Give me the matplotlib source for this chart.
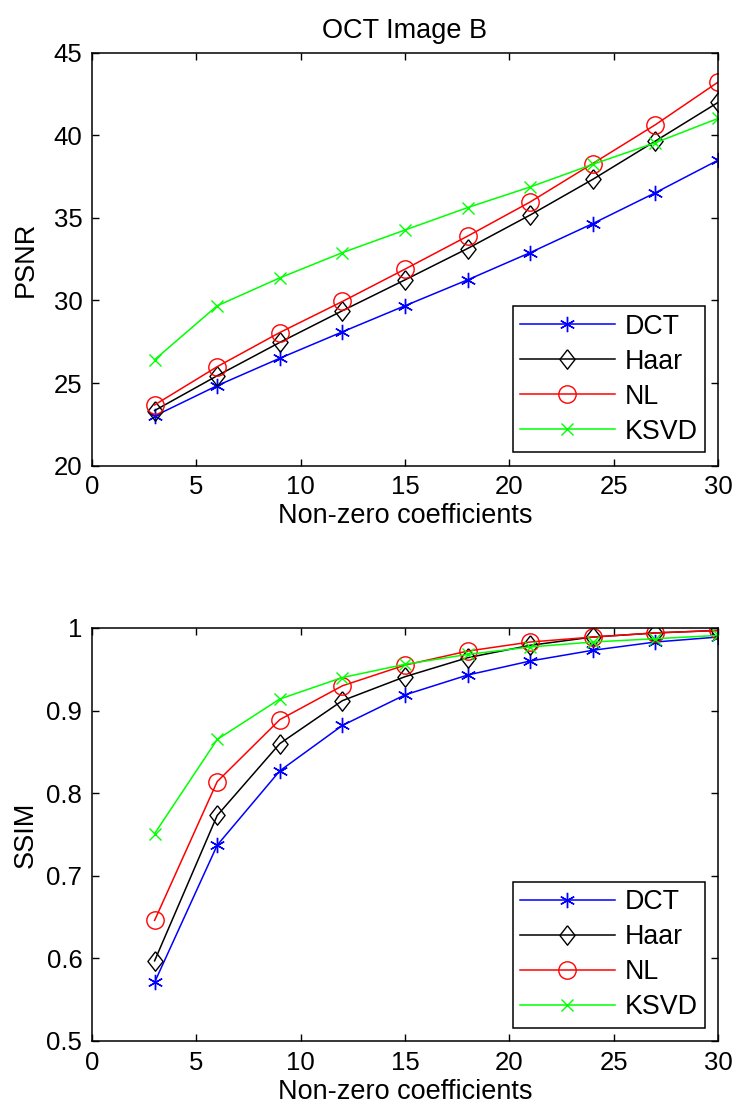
import numpy as np
import matplotlib
matplotlib.use('Agg')
import matplotlib.pyplot as plt

plt.rcParams['font.family'] = ['Liberation Sans', 'DejaVu Sans']

coeffs = [3, 6, 9, 12, 15, 18, 21, 24, 27, 30]

psnr_dct = [23.0, 24.84, 26.5, 28.1, 29.68, 31.25, 32.9, 34.66, 36.53, 38.5]
psnr_haar = [23.33, 25.44, 27.46, 29.38, 31.25, 33.15, 35.18, 37.34, 39.66, 42.0]
psnr_nl = [23.67, 25.99, 28.06, 29.94, 31.9, 33.9, 35.97, 38.3, 40.65, 43.23]
psnr_ksvd = [26.41, 29.68, 31.37, 32.9, 34.27, 35.63, 36.88, 38.25, 39.56, 41.03]

ssim_dct = [0.571, 0.737, 0.827, 0.882, 0.919, 0.943, 0.960, 0.973, 0.983, 0.989]
ssim_haar = [0.597, 0.773, 0.860, 0.912, 0.941, 0.964, 0.979, 0.989, 0.994, 0.997]
ssim_nl = [0.646, 0.814, 0.889, 0.930, 0.955, 0.972, 0.983, 0.989, 0.994, 0.997]
ssim_ksvd = [0.751, 0.865, 0.914, 0.940, 0.956, 0.968, 0.977, 0.983, 0.987, 0.991]

labels = ['DCT', 'Haar', 'NL', 'KSVD']
colors = ['#0000ff', '#000000', '#ff0000', '#00ff00']
# matlab style diamond, a bit wider than matplotlib's thin one
diamond = [(0, 1), (0.78, 0), (0, -1), (-0.78, 0), (0, 1)]
markers = [(6, 2, 0), diamond, 'o', 'x']
msizes = [11, 14, 12.5, 9]

fig = plt.figure(figsize=(7.36, 11.15), dpi=100)
ax1 = fig.add_axes([0.125, 0.5825, 0.8505, 0.370])
ax2 = fig.add_axes([0.125, 0.0664, 0.8505, 0.3704])


def draw(ax, series, ylim, yticks, yticklabels, ylabel):
    for s, lab, c, m, ms in zip(series, labels, colors, markers, msizes):
        ax.plot(coeffs, s, color=c, marker=m, markersize=ms, markerfacecolor='none',
                markeredgecolor=c, markeredgewidth=1.0, linewidth=1.1, label=lab)
    ax.set_xlim(0, 30)
    ax.set_ylim(*ylim)
    ax.set_xticks(range(0, 31, 5))
    ax.set_yticks(yticks)
    ax.set_yticklabels(yticklabels)
    ax.tick_params(direction='in', top=True, right=True, length=5, width=1,
                   labelsize=18.5, pad=7)
    for sp in ax.spines.values():
        sp.set_linewidth(1.1)
    ax.set_xlabel('Non-zero coefficients', fontsize=19.5, labelpad=3)
    ax.set_ylabel(ylabel, fontsize=19.5)
    ax.yaxis.set_label_coords(-0.0853, 0.5)
    leg = ax.legend(loc='lower right', fontsize=19.3, handlelength=3.55, borderpad=0.27,
                    labelspacing=0.34, handletextpad=0.35, borderaxespad=0.5,
                    fancybox=False, edgecolor='black', framealpha=1)
    leg.get_frame().set_linewidth(1.1)


draw(ax1, [psnr_dct, psnr_haar, psnr_nl, psnr_ksvd], (20, 45),
     [20, 25, 30, 35, 40, 45], ['20', '25', '30', '35', '40', '45'], 'PSNR')
ax1.set_title('OCT Image B', fontsize=19.5, pad=11)

draw(ax2, [ssim_dct, ssim_haar, ssim_nl, ssim_ksvd], (0.5, 1.0),
     [0.5, 0.6, 0.7, 0.8, 0.9, 1.0], ['0.5', '0.6', '0.7', '0.8', '0.9', '1'], 'SSIM')

fig.savefig('out.png', dpi=100, facecolor='white')
